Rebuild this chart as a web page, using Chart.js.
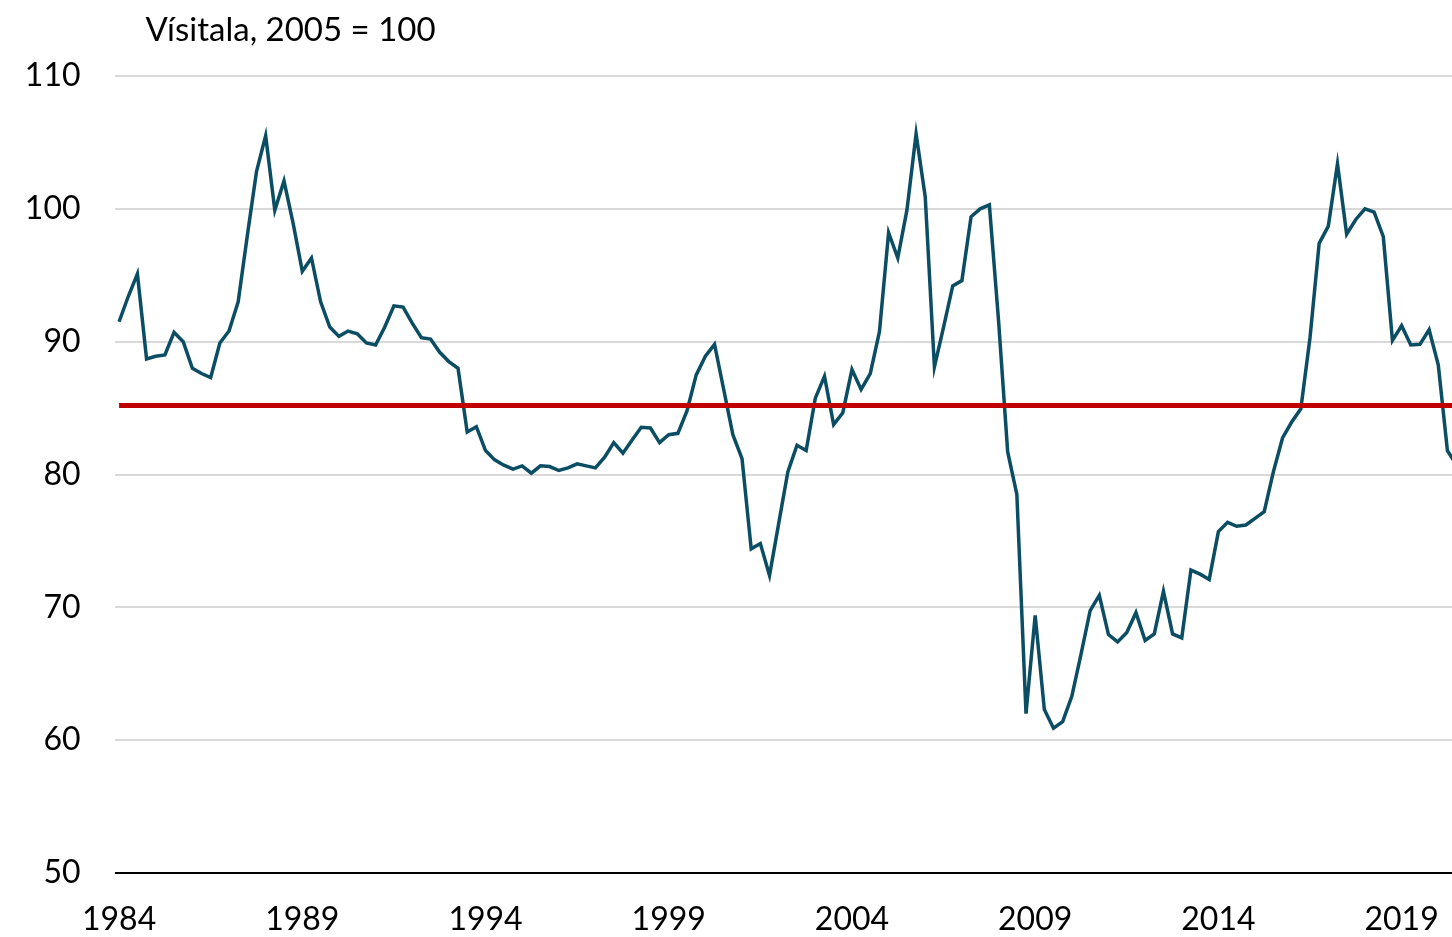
<!DOCTYPE html>
<html>
<head>
<meta charset="utf-8">
<script src="https://cdn.jsdelivr.net/npm/chart.js@4/dist/chart.umd.min.js"></script>
<style>
  html, body { margin: 0; padding: 0; background: #ffffff; }
  #wrap { width: 1452px; height: 937px; }
</style>
</head>
<body>
<div id="wrap"><canvas id="myChart"></canvas></div>
<script>
////////////////////////////////////////////////////////////
// data (quarterly, first point = 1984 Q1)
var startYear = 1984;
var indexValues = [
  91.5, 93.4, 95.1, 88.7, 88.9, 89.0, 90.7, 90.0, 88.0, 87.6,
  87.3, 89.9, 90.8, 93.0, 98.0, 102.8, 105.5, 99.9, 102.1, 98.9,
  95.3, 96.3, 93.0, 91.1, 90.4, 90.8, 90.6, 89.9, 89.75, 91.1,
  92.7, 92.6, 91.4, 90.3, 90.2, 89.2, 88.5, 88.0, 83.2, 83.6,
  81.8, 81.1, 80.7, 80.4, 80.65, 80.1, 80.65, 80.6, 80.3, 80.5,
  80.8, 80.65, 80.5, 81.3, 82.4, 81.6, 82.6, 83.55, 83.5, 82.4,
  83.0, 83.1, 84.8, 87.5, 88.9, 89.8, 86.4, 83.0, 81.2, 74.4,
  74.8, 72.4, 76.3, 80.2, 82.2, 81.8, 85.75, 87.4, 83.75, 84.65,
  87.9, 86.4, 87.6, 90.75, 98.2, 96.3, 99.9, 105.65, 100.9, 88.1,
  91.1, 94.2, 94.6, 99.4, 100.0, 100.3, 91.6, 81.7, 78.5, 62.0,
  69.4, 62.3, 60.9, 61.4, 63.3, 66.45, 69.75, 70.9, 67.95, 67.4,
  68.1, 69.6, 67.5, 68.0, 71.2, 68.0, 67.7, 72.8, 72.5, 72.1,
  75.7, 76.4, 76.1, 76.2, 76.7, 77.2, 80.2, 82.75, 83.95, 84.95,
  90.3, 97.4, 98.7, 103.4, 98.1, 99.2, 100.0, 99.75, 97.9, 90.1,
  91.2, 89.75, 89.8, 90.9, 88.25, 81.8, 80.7
];
var avgLevel = [85.2, 85.2];
var tickYears = [1984, 1989, 1994, 1999, 2004, 2009, 2014, 2019];
var yTicks = [50, 60, 70, 80, 90, 100, 110];
var titleText = "Vísitala, 2005 = 100";

////////////////////////////////////////////////////////////
var linePoints = indexValues.map(function (v, i) { return { x: i, y: v }; });
var avgPoints = [
  { x: 0, y: avgLevel[0] },
  { x: indexValues.length, y: avgLevel[1] }
];
var tickPositions = tickYears.map(function (y) { return (y - startYear) * 4; });

var fontFamily = "Lato, 'Open Sans', sans-serif";

// header text above the plot
var headerPlugin = {
  id: "header",
  afterDraw: function (chart) {
    var ctx = chart.ctx;
    ctx.save();
    ctx.fillStyle = "#000000";
    ctx.font = "33px " + fontFamily;
    ctx.textBaseline = "middle";
    ctx.textAlign = "left";
    ctx.fillText(titleText, chart.chartArea.left + 31, 30);
    ctx.restore();
  }
};

var ctx = document.getElementById("myChart").getContext("2d");
var chart = new Chart(ctx, {
  type: "line",
  data: {
    datasets: [
      {
        label: "Vísitala",
        data: linePoints,
        borderColor: "#0b4d63",
        borderWidth: 3.5,
        pointRadius: 0,
        tension: 0,
        clip: 0,
        order: 2
      },
      {
        label: "Meðaltal",
        data: avgPoints,
        borderColor: "#c00000",
        borderWidth: 5,
        pointRadius: 0,
        clip: 0,
        order: 1
      }
    ]
  },
  options: {
    responsive: true,
    maintainAspectRatio: false,
    animation: false,
    layout: { padding: { top: 76, right: 0, left: 0, bottom: 0 } },
    plugins: {
      legend: { display: false },
      tooltip: { enabled: false }
    },
    scales: {
      x: {
        type: "linear",
        min: -0.5,
        max: 145.5,
        grid: { display: false, drawTicks: false },
        border: { display: false },
        afterBuildTicks: function (scale) {
          scale.ticks = tickPositions.map(function (v) { return { value: v }; });
        },
        afterFit: function (scale) {
          scale.height = 64;
          scale.paddingLeft = 0;
          scale.paddingRight = 0;
        },
        ticks: {
          autoSkip: false,
          maxRotation: 0,
          padding: 27,
          color: "#000000",
          font: { family: fontFamily, size: 32 },
          callback: function (value) { return String(startYear + value / 4); }
        }
      },
      y: {
        min: 50,
        max: 110,
        afterBuildTicks: function (scale) {
          scale.ticks = yTicks.map(function (v) { return { value: v }; });
        },
        afterFit: function (scale) { scale.width = 114.5; },
        grid: {
          drawTicks: false,
          lineWidth: 2,
          color: function (c) { return c.tick && c.tick.value === 50 ? "#000000" : "#d9d9d9"; }
        },
        border: { display: false },
        ticks: {
          padding: 34,
          color: "#000000",
          font: { family: fontFamily, size: 32 }
        }
      }
    }
  },
  plugins: [headerPlugin]
});
</script>
</body>
</html>
